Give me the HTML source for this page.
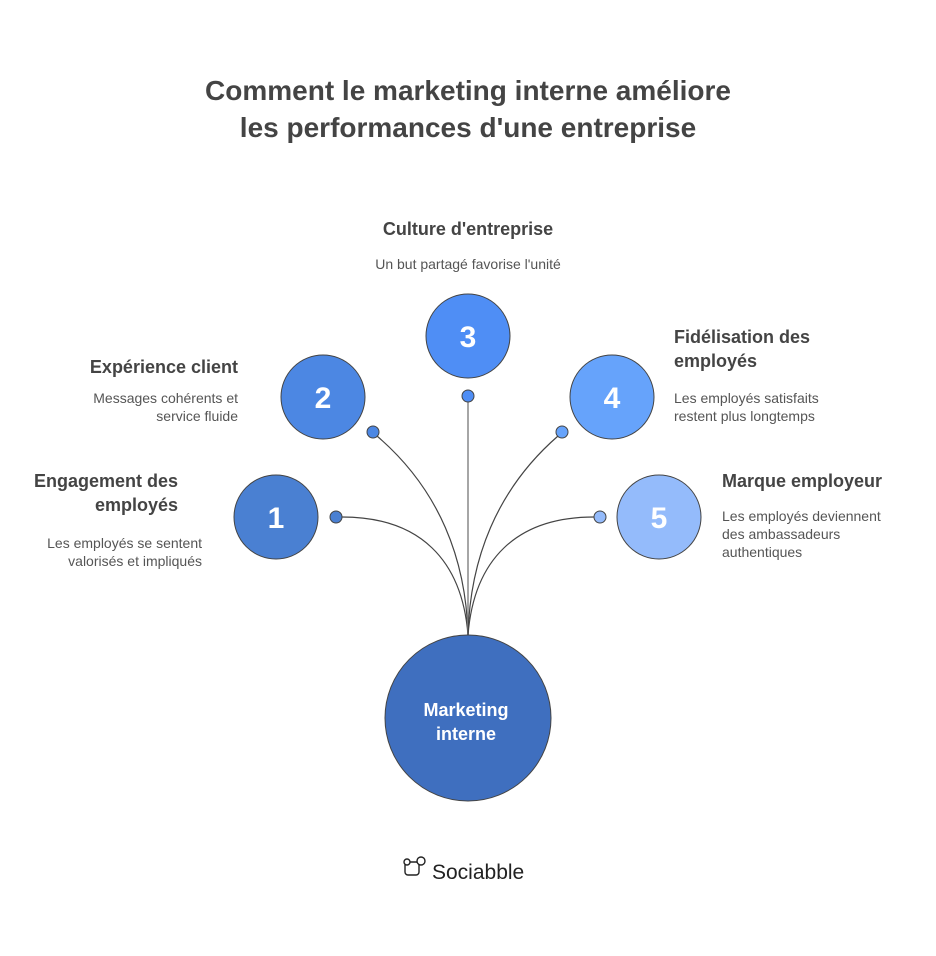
<!DOCTYPE html>
<html><head><meta charset="utf-8"><style>
body{margin:0;background:#fff;width:936px;height:951px;overflow:hidden;font-family:"Liberation Sans",sans-serif}
</style></head><body>
<svg width="936" height="951" viewBox="0 0 936 951" xmlns="http://www.w3.org/2000/svg" font-family="Liberation Sans, sans-serif">
<text x="468" y="100" text-anchor="middle" font-size="28" font-weight="bold" fill="#444">Comment le marketing interne améliore</text>
<text x="468" y="137" text-anchor="middle" font-size="28" font-weight="bold" fill="#444">les performances d'une entreprise</text>
<g fill="none" stroke="#444" stroke-width="1.2">
<path d="M342,517 C420,517 462,560 468,635"/>
<path d="M377,436 C440,490 466,560 468,635"/>
<path d="M468,402 L468,635" stroke="#888" stroke-width="1.5"/>
<path d="M558,436 C496,490 470,560 468,635"/>
<path d="M594,517 C516,517 474,560 468,635"/>
</g>
<g stroke="#444" stroke-width="1">
<circle cx="276" cy="517" r="42" fill="#4a80d2"/>
<circle cx="323" cy="397" r="42" fill="#4c87e3"/>
<circle cx="468" cy="336" r="42" fill="#4f8ef5"/>
<circle cx="612" cy="397" r="42" fill="#66a3fb"/>
<circle cx="659" cy="517" r="42" fill="#94bbfb"/>
<circle cx="336" cy="517" r="6" fill="#4a80d2"/>
<circle cx="373" cy="432" r="6" fill="#4c87e3"/>
<circle cx="468" cy="396" r="6" fill="#4f8ef5"/>
<circle cx="562" cy="432" r="6" fill="#66a3fb"/>
<circle cx="600" cy="517" r="6" fill="#94bbfb"/>
<circle cx="468" cy="718" r="83" fill="#3f6fbf"/>
</g>
<g fill="#fff" font-size="30" font-weight="bold" text-anchor="middle">
<text x="276" y="528">1</text><text x="323" y="408">2</text><text x="468" y="347">3</text><text x="612" y="408">4</text><text x="659" y="528">5</text>
</g>
<text x="466" y="716" text-anchor="middle" fill="#fff" font-size="18" font-weight="bold">Marketing</text>
<text x="466" y="740" text-anchor="middle" fill="#fff" font-size="18" font-weight="bold">interne</text>
<g fill="#444" font-size="18" font-weight="bold">
<text x="468" y="235" text-anchor="middle">Culture d'entreprise</text>
<text x="238" y="373" text-anchor="end">Expérience client</text>
<text x="178" y="487" text-anchor="end">Engagement des</text>
<text x="178" y="511" text-anchor="end">employés</text>
<text x="674" y="343">Fidélisation des</text>
<text x="674" y="367">employés</text>
<text x="722" y="487">Marque employeur</text>
</g>
<g fill="#555" font-size="14">
<text x="468" y="269" text-anchor="middle">Un but partagé favorise l'unité</text>
<text x="238" y="403" text-anchor="end">Messages cohérents et</text>
<text x="238" y="421" text-anchor="end">service fluide</text>
<text x="202" y="548" text-anchor="end">Les employés se sentent</text>
<text x="202" y="566" text-anchor="end">valorisés et impliqués</text>
<text x="674" y="403">Les employés satisfaits</text>
<text x="674" y="421">restent plus longtemps</text>
<text x="722" y="521">Les employés deviennent</text>
<text x="722" y="539">des ambassadeurs</text>
<text x="722" y="557">authentiques</text>
</g>
<g fill="none" stroke="#222" stroke-width="1.4">
<rect x="405" y="862" width="14" height="13" rx="3"/>
<circle cx="407" cy="862" r="3" fill="#fff"/>
<circle cx="421" cy="861" r="4" fill="#fff"/>
</g>
<text x="432" y="879" font-size="21" fill="#222">Sociabble</text>
</svg>
</body></html>
